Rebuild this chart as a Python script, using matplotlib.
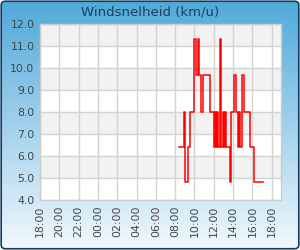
import numpy as np
import matplotlib
matplotlib.use("Agg")
import matplotlib.pyplot as plt
from matplotlib.patches import FancyBboxPatch

# ---- data ----
times = ["08:24", "08:53", "09:02", "09:22", "09:33", "09:56", "10:08", "10:25", "10:31",
         "10:43", "10:52", "11:35", "12:02", "12:08", "12:14", "12:20", "12:26", "12:39",
         "12:45", "12:58", "13:07", "13:13", "13:18", "13:41", "13:45", "13:50", "14:04",
         "14:20", "14:33", "14:39", "14:44", "14:58", "15:08", "15:46", "16:09", "17:08"]
speeds = [6.4, 8.0, 4.8, 6.4, 8.0, 11.3, 9.7, 11.3, 9.7,
          8.0, 9.7, 8.0, 6.4, 8.0, 6.4, 8.0, 6.4, 11.3,
          6.4, 8.0, 6.4, 8.0, 6.4, 4.8, 6.4, 8.0, 9.7,
          8.0, 6.4, 8.0, 6.4, 9.7, 8.0, 6.4, 4.8, 4.8]
tick_labels = ["18:00", "20:00", "22:00", "00:00", "02:00", "04:00", "06:00",
               "08:00", "10:00", "12:00", "14:00", "16:00", "18:00"]
y_ticks = [4.0, 5.0, 6.0, 7.0, 8.0, 9.0, 10.0, 11.0, 12.0]
title = "Windsnelheid (km/u)"


def to_hours(s):
    h, m = s.split(":")
    v = int(h) + int(m) / 60.0
    return v - 18 if v >= 18 else v + 6


x = [to_hours(t) for t in times]
tick_pos = [2 * i for i in range(len(tick_labels))]

fig = plt.figure(figsize=(3.0, 2.5), dpi=100)
fig.patch.set_facecolor("white")

# background gradient with rounded border
bg = fig.add_axes([0, 0, 1, 1], zorder=-5)
bg.set_xlim(0, 1)
bg.set_ylim(0, 1)
bg.axis("off")
top = np.array([0x4f, 0xa9, 0xda]) / 255
bot = np.array([0xf2, 0xf9, 0xfd]) / 255
grad = np.linspace(0, 1, 256)[:, None]
img = top[None, None, :] * (1 - grad[..., None]) + bot[None, None, :] * grad[..., None]
img = np.repeat(img, 2, axis=1)
im = bg.imshow(img, extent=[0, 1, 0, 1], aspect="auto", origin="upper")
box = FancyBboxPatch((0.004, 0.005), 0.992, 0.99,
                     boxstyle="round,pad=0,rounding_size=0.015",
                     transform=bg.transAxes, facecolor="none",
                     edgecolor="#173c63", linewidth=1.2)
bg.add_patch(box)
im.set_clip_path(box)

ax = fig.add_axes([40 / 300, 1 - 200 / 250, 240.7 / 300, 176 / 250])
ax.set_xlim(0, 24.94)
ax.set_ylim(4.0, 12.0)
ax.set_facecolor("white")

for i in range(8):
    lo = 4.0 + i
    if i % 2 == 1:
        ax.axhspan(lo, lo + 1, color="#f2f2f2", zorder=0, lw=0)

ax.set_yticks(y_ticks)
ax.set_yticklabels([f"{v:.1f}" for v in y_ticks])
ax.set_xticks(tick_pos)
ax.set_xticklabels(tick_labels, rotation=90)
ax.grid(True, color="#d3d3d3", linewidth=1.0, zorder=1)
ax.set_axisbelow(True)
ax.tick_params(length=0, labelsize=7.8, colors="#444444", pad=4)
for s in ax.spines.values():
    s.set_color("#cccccc")
    s.set_linewidth(1.0)

ax.plot(x, speeds, drawstyle="steps-post", color="#ff0000", linewidth=1.1, zorder=3)

fig.text(0.5, 1 - 12 / 250, title, ha="center", va="center",
         fontsize=9.5, color="#1d3f60")

fig.savefig("out.png", dpi=100)
